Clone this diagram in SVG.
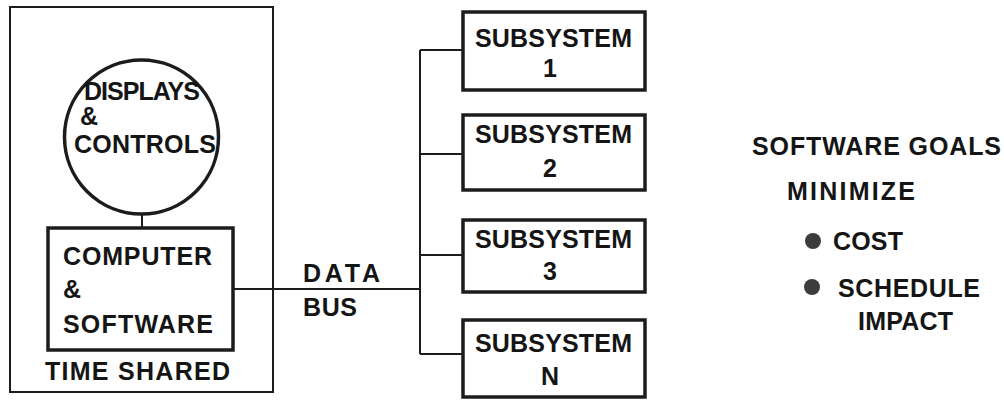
<svg xmlns="http://www.w3.org/2000/svg" width="1004" height="401" viewBox="0 0 1004 401">
  <style>
    .t { font-family: "Liberation Sans", Arial, sans-serif; font-weight: bold; font-size: 25px; fill: #151515; }
    .box { fill: none; stroke: #1c1c1c; stroke-width: 3.5; }
    .frame { fill: none; stroke: #1c1c1c; stroke-width: 2; }
    .wire { fill: none; stroke: #1c1c1c; stroke-width: 2; }
    .dot { fill: #3c3c3c; }
  </style>

  <!-- time-shared enclosure -->
  <g id="time-shared">
    <rect class="frame" x="10" y="7" width="263" height="385"/>
    <text class="t" x="45" y="380" textLength="185" lengthAdjust="spacing">TIME SHARED</text>
  </g>

  <g id="displays-controls">
    <circle class="box" cx="141.5" cy="137" r="77" stroke-width="3"/>
    <text class="t" x="84" y="100" textLength="116" lengthAdjust="spacing">DISPLAYS</text>
    <text class="t" x="80" y="125">&amp;</text>
    <text class="t" x="74" y="153" textLength="142" lengthAdjust="spacing">CONTROLS</text>
  </g>

  <g id="computer-software">
    <rect class="box" x="48" y="228" width="185" height="122"/>
    <text class="t" x="63" y="265" textLength="149" lengthAdjust="spacing">COMPUTER</text>
    <text class="t" x="63" y="298">&amp;</text>
    <text class="t" x="63" y="333" textLength="150" lengthAdjust="spacing">SOFTWARE</text>
  </g>

  <!-- bus wiring -->
  <g id="connectors">
    <line class="wire" x1="142" y1="214" x2="142" y2="228" stroke-width="3"/>
    <line class="wire" x1="233" y1="289" x2="420" y2="289"/>
    <line class="wire" x1="420" y1="50" x2="420" y2="354"/>
    <line class="wire" x1="420" y1="50" x2="463" y2="50"/>
    <line class="wire" x1="420" y1="154" x2="463" y2="154"/>
    <line class="wire" x1="420" y1="255" x2="463" y2="255"/>
    <line class="wire" x1="420" y1="354" x2="463" y2="354"/>
  </g>

  <g id="data-bus-label">
    <text class="t" x="303" y="282" textLength="77" lengthAdjust="spacing">DATA</text>
    <text class="t" x="303" y="316" textLength="54" lengthAdjust="spacing">BUS</text>
  </g>

  <g id="subsystem-1">
    <rect class="box" x="463" y="12" width="182" height="78"/>
    <text class="t" x="475" y="47" textLength="157" lengthAdjust="spacing">SUBSYSTEM</text>
    <text class="t" x="550" y="77" text-anchor="middle">1</text>
  </g>
  <g id="subsystem-2">
    <rect class="box" x="463" y="115" width="182" height="75"/>
    <text class="t" x="475" y="143" textLength="157" lengthAdjust="spacing">SUBSYSTEM</text>
    <text class="t" x="550" y="177" text-anchor="middle">2</text>
  </g>
  <g id="subsystem-3">
    <rect class="box" x="463" y="220" width="182" height="72"/>
    <text class="t" x="475" y="248" textLength="157" lengthAdjust="spacing">SUBSYSTEM</text>
    <text class="t" x="550" y="280" text-anchor="middle">3</text>
  </g>
  <g id="subsystem-n">
    <rect class="box" x="463" y="320" width="182" height="77"/>
    <text class="t" x="475" y="352" textLength="157" lengthAdjust="spacing">SUBSYSTEM</text>
    <text class="t" x="550" y="385" text-anchor="middle">N</text>
  </g>

  <!-- goals list -->
  <g id="software-goals">
    <text class="t" x="752" y="155" textLength="249" lengthAdjust="spacing">SOFTWARE GOALS</text>
    <text class="t" x="787" y="200" textLength="128" lengthAdjust="spacing">MINIMIZE</text>
    <circle class="dot" cx="813" cy="241" r="8"/>
    <text class="t" x="833" y="250" textLength="70" lengthAdjust="spacing">COST</text>
    <circle class="dot" cx="812" cy="287" r="8"/>
    <text class="t" x="838" y="297" textLength="142" lengthAdjust="spacing">SCHEDULE</text>
    <text class="t" x="858" y="330" textLength="95" lengthAdjust="spacing">IMPACT</text>
  </g>
</svg>
